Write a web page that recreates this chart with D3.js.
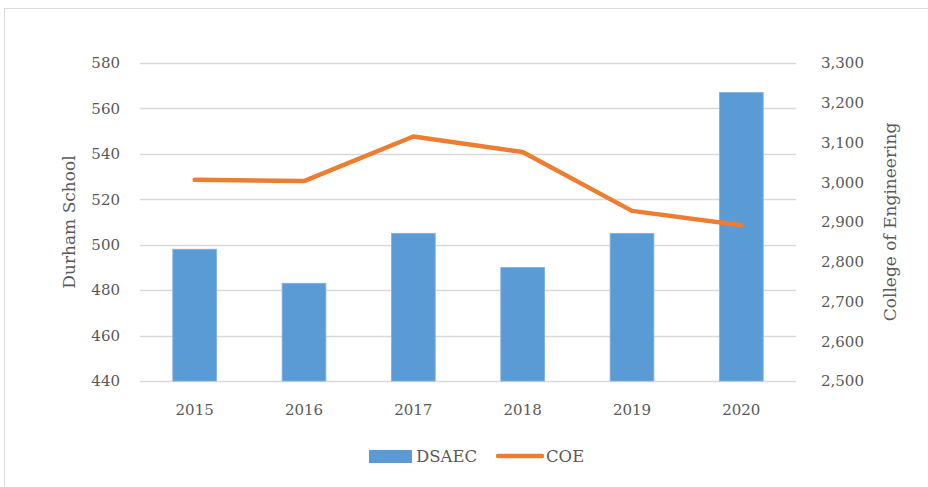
<!DOCTYPE html>
<html><head><meta charset="utf-8">
<script src="https://cdn.jsdelivr.net/npm/d3@7/dist/d3.min.js"></script>
<style>
body{margin:0;background:#fff;}
text{font-family:"DejaVu Serif",serif;fill:#595959;}
</style></head>
<body><svg id="c" width="928" height="487"></svg>
<script>
const years = ["2015","2016","2017","2018","2019","2020"];
const dsaec = [498, 483, 505, 490, 505, 567];
const coe = [3006, 3003, 3115, 3076, 2928, 2892];
const leftTicks = [440,460,480,500,520,540,560,580];
const rightTicks = [2500,2600,2700,2800,2900,3000,3100,3200,3300];

const svg = d3.select("#c");
const W = 928, H = 487;
svg.append("rect").attr("x",4.5).attr("y",8.5).attr("width",W).attr("height",H)
  .attr("fill","#fff").attr("stroke","#d9d9d9");

const x0 = 140, x1 = 796, yTop = 63, yBot = 381;
const x = d3.scaleBand().domain(years).range([x0,x1]).paddingInner(0.6).paddingOuter(0.3);
const yL = d3.scaleLinear().domain([440,580]).range([yBot,yTop]);
const yR = d3.scaleLinear().domain([2500,3300]).range([yBot,yTop]);

// grid
svg.append("g").selectAll("line").data(leftTicks).join("line")
  .attr("x1",x0).attr("x2",x1)
  .attr("y1",d=>Math.round(yL(d))+0.5).attr("y2",d=>Math.round(yL(d))+0.5)
  .attr("stroke","#d9d9d9").attr("stroke-width",1.3);

// bars
svg.append("g").selectAll("rect").data(years).join("rect")
  .attr("x",d=>x(d)).attr("width",x.bandwidth())
  .attr("y",(d,i)=>yL(dsaec[i])).attr("height",(d,i)=>yBot-yL(dsaec[i]))
  .attr("fill","#5b9bd5").attr("stroke","#7fb1df").attr("stroke-width",0.8);

// line
const line = d3.line().x((d,i)=>x(years[i])+x.bandwidth()/2).y(d=>yR(d));
svg.append("path").datum(coe).attr("d",line).attr("fill","none")
  .attr("stroke","#ed7d31").attr("stroke-width",4.5).attr("stroke-linejoin","round").attr("stroke-linecap","round");

// left axis
const axL = d3.axisLeft(yL).tickValues(leftTicks).tickSize(0).tickPadding(0).tickFormat(d3.format("d"));
const gL = svg.append("g").attr("transform","translate(120,0)").call(axL);
gL.select(".domain").remove();
gL.selectAll("text").attr("font-size",15).attr("font-family","DejaVu Serif").attr("fill","#595959");

const axR = d3.axisRight(yR).tickValues(rightTicks).tickSize(0).tickPadding(0).tickFormat(d3.format(","));
const gR = svg.append("g").attr("transform","translate(821,0)").call(axR);
gR.select(".domain").remove();
gR.selectAll("text").attr("font-size",15).attr("font-family","DejaVu Serif").attr("fill","#595959");

const axB = d3.axisBottom(x).tickSize(0).tickPadding(0);
const gB = svg.append("g").attr("transform","translate(0,404)").call(axB);
gB.select(".domain").remove();
gB.selectAll("text").attr("font-size",15).attr("font-family","DejaVu Serif").attr("fill","#595959").attr("dy","0.71em");

// axis titles
svg.append("text").attr("transform","translate(75,222) rotate(-90)").attr("text-anchor","middle")
  .attr("font-size",17).text("Durham School");
svg.append("text").attr("transform","translate(896,222) rotate(-90)").attr("text-anchor","middle")
  .attr("font-size",17).text("College of Engineering");

// legend
const lg = svg.append("g");
lg.append("rect").attr("x",369).attr("y",450).attr("width",43).attr("height",13).attr("fill","#5b9bd5");
lg.append("text").attr("x",416).attr("y",462).attr("font-size",16.5).text("DSAEC");
lg.append("line").attr("x1",498).attr("x2",542).attr("y1",456).attr("y2",456)
  .attr("stroke","#ed7d31").attr("stroke-width",4.5).attr("stroke-linecap","round");
lg.append("text").attr("x",546).attr("y",462).attr("font-size",16.5).text("COE");
</script></body></html>
